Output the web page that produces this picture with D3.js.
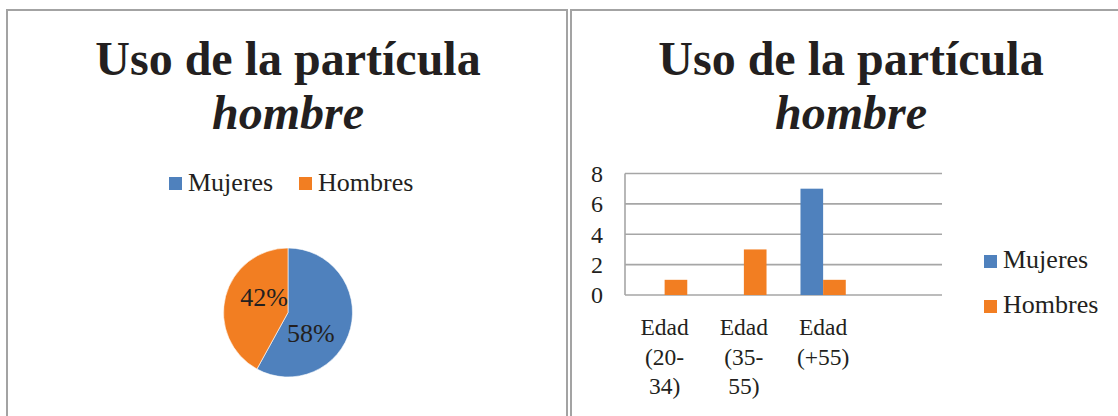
<!DOCTYPE html>
<html>
<head>
<meta charset="utf-8">
<script src="https://cdn.jsdelivr.net/npm/d3@7"></script>
<style>
  html, body { margin: 0; padding: 0; background: #fff; }
  svg { display: block; }
  text { font-family: "Liberation Serif", "Times New Roman", serif; fill: #231f20; }
</style>
</head>
<body>
<svg id="chart" width="1118" height="416"></svg>
<script>
// Data
const titleLine1 = "Uso de la partícula";
const titleLine2 = "hombre";
const seriesNames = ["Mujeres", "Hombres"];
const seriesColors = ["#4f81bd", "#f27e22"];

// Pie: share of each group (percent)
const pieValues = [58, 42];

// Bars: counts per age group (last slot is an empty category)
const categories = [["Edad", "(20-", "34)"], ["Edad", "(35-", "55)"], ["Edad", "(+55)"], [""]];
const mujeres = [0, 0, 7, null];
const hombres = [1, 3, 1, null];
const yTicks = [0, 2, 4, 6, 8];

const svg = d3.select("#chart");
const borderColor = "#a3a3a3";

// Panel frames
svg.append("rect").attr("x", 7).attr("y", 10).attr("width", 560).attr("height", 520)
  .attr("fill", "none").attr("stroke", borderColor).attr("stroke-width", 2);
svg.append("rect").attr("x", 571).attr("y", 10).attr("width", 620).attr("height", 520)
  .attr("fill", "none").attr("stroke", borderColor).attr("stroke-width", 2);

function drawTitle(cx) {
  svg.append("text").attr("x", cx).attr("y", 75).attr("text-anchor", "middle")
    .attr("font-size", 48).attr("font-weight", "bold").text(titleLine1);
  svg.append("text").attr("x", cx).attr("y", 129).attr("text-anchor", "middle")
    .attr("font-size", 48).attr("font-weight", "bold").attr("font-style", "italic").text(titleLine2);
}

// ---------- Left panel: pie ----------
drawTitle(288);

// Horizontal legend
const legL = svg.append("g");
[[169, 0], [299, 1]].forEach(([lx, i]) => {
  legL.append("rect").attr("x", lx).attr("y", 177).attr("width", 13).attr("height", 13)
    .attr("fill", seriesColors[i]);
  legL.append("text").attr("x", lx + 19).attr("y", 191).attr("font-size", 26).text(seriesNames[i]);
});

const pcx = 288, pcy = 312.5, pr = 64.5;
const pie = d3.pie().sort(null).value(d => d)(pieValues);
const arc = d3.arc().innerRadius(0).outerRadius(pr);
const pg = svg.append("g").attr("transform", `translate(${pcx},${pcy})`);
pg.selectAll("path").data(pie).join("path")
  .attr("d", arc)
  .attr("fill", (d, i) => seriesColors[i])
  .attr("stroke", "#fff").attr("stroke-width", 0.6);

// Data labels: first slice label starts at the centre line, second ends at it
pg.append("text").attr("x", -1).attr("y", 29).attr("text-anchor", "start")
  .attr("font-size", 26).text(pieValues[0] + "%");
pg.append("text").attr("x", 0).attr("y", -6.5).attr("text-anchor", "end")
  .attr("font-size", 26).text(pieValues[1] + "%");

// ---------- Right panel: grouped bars ----------
drawTitle(851);

const plot = { left: 625, right: 942, top: 173.5, bottom: 295 };
const x = d3.scaleBand().domain(d3.range(categories.length))
  .range([plot.left, plot.right]).paddingInner(0).paddingOuter(0);
const xs = d3.scaleBand().domain(seriesNames).range([0, x.bandwidth()]).paddingOuter(0.75);
const y = d3.scaleLinear().domain([0, 8]).range([plot.bottom, plot.top]);

// Gridlines
svg.append("g").selectAll("line").data(yTicks).join("line")
  .attr("x1", plot.left).attr("x2", plot.right)
  .attr("y1", d => y(d)).attr("y2", d => y(d))
  .attr("stroke", "#a6a6a6").attr("stroke-width", 1.6);
// Value axis line
svg.append("line").attr("x1", plot.left).attr("x2", plot.left)
  .attr("y1", y(8)).attr("y2", y(0)).attr("stroke", "#a6a6a6").attr("stroke-width", 1.6);

// Y tick labels
svg.append("g").selectAll("text").data(yTicks).join("text")
  .attr("x", 603).attr("y", d => y(d)).attr("dy", "0.35em")
  .attr("text-anchor", "end").attr("font-size", 24).text(d => d);

// Bars
const seriesData = [mujeres, hombres];
seriesData.forEach((vals, si) => {
  svg.append("g").selectAll("rect")
    .data(vals.map((v, i) => ({ v, i })).filter(d => d.v !== null && d.v > 0))
    .join("rect")
    .attr("x", d => x(d.i) + xs(seriesNames[si]))
    .attr("width", xs.bandwidth())
    .attr("y", d => y(d.v))
    .attr("height", d => y(0) - y(d.v))
    .attr("fill", seriesColors[si]);
});

// Category labels (wrapped)
categories.forEach((lines, i) => {
  const t = svg.append("text").attr("text-anchor", "middle").attr("font-size", 23.5);
  lines.forEach((ln, k) => {
    t.append("tspan").attr("x", x(i) + x.bandwidth() / 2).attr("y", 335 + k * 29.5).text(ln);
  });
});

// Vertical legend
[[0, 268], [1, 313]].forEach(([i, by]) => {
  svg.append("rect").attr("x", 984).attr("y", by - 13).attr("width", 13).attr("height", 13)
    .attr("fill", seriesColors[i]);
  svg.append("text").attr("x", 1003).attr("y", by).attr("font-size", 26).text(seriesNames[i]);
});
</script>
</body>
</html>
